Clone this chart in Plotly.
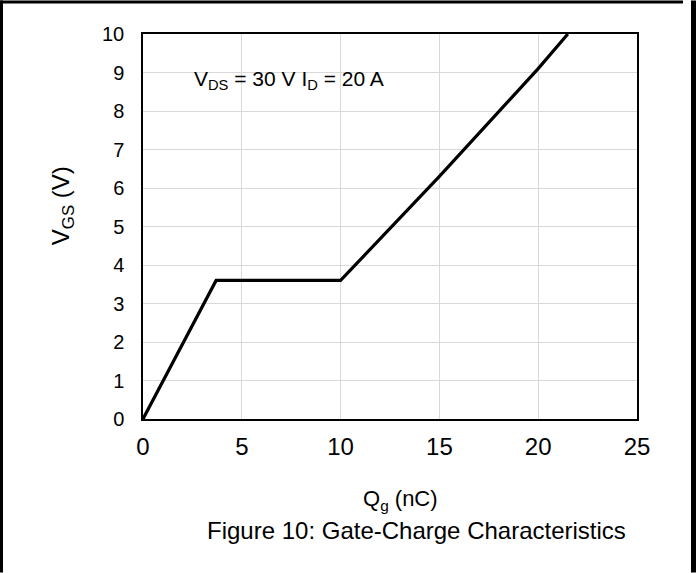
import plotly.graph_objects as go

# Data
qg_nc = [0, 3.7, 10.0, 15.0, 20.0, 21.5]
vgs_v = [0, 3.6, 3.6, 6.3, 9.1, 10.0]
x_ticks = [0, 5, 10, 15, 20, 25]
y_ticks = list(range(0, 11))

W, H = 696, 573
L, R, T, B = 143, 59, 33.5, 153.7
pw, ph = W - L - R, H - T - B

def px(xp):
    return (xp - L) / pw

def py(yp):
    return (H - B - yp) / ph

FONT = "Liberation Sans, Arial, sans-serif"

fig = go.Figure()
fig.add_trace(go.Scatter(x=qg_nc, y=vgs_v, mode="lines",
                         line=dict(color="black", width=3.2),
                         showlegend=False, hoverinfo="skip"))

fig.update_layout(
    width=W, height=H,
    margin=dict(l=L, r=R, t=T, b=B, pad=0),
    paper_bgcolor="white", plot_bgcolor="white",
    font=dict(family=FONT, color="black"),
    xaxis=dict(range=[0, 25], tickvals=x_ticks, ticktext=[str(v) for v in x_ticks],
               showgrid=True, gridcolor="#d9d9d9", gridwidth=1,
               showline=True, linecolor="black", linewidth=1.5, mirror=True,
               ticks="", ticklabelstandoff=5, zeroline=False,
               tickfont=dict(size=24, family=FONT)),
    yaxis=dict(range=[0, 10], tickvals=y_ticks, ticktext=[str(v) for v in y_ticks],
               showgrid=True, gridcolor="#d9d9d9", gridwidth=1,
               showline=True, linecolor="black", linewidth=1.5, mirror=True,
               ticks="", ticklabelstandoff=13, zeroline=False,
               tickfont=dict(size=20, family=FONT)),
    shapes=[
        dict(type="line", xref="paper", yref="paper", x0=px(1.5), x1=px(1.5), y0=py(573), y1=py(0),
             line=dict(color="black", width=3), layer="above"),
        dict(type="line", xref="paper", yref="paper", x0=px(0), x1=px(683), y0=py(1.5), y1=py(1.5),
             line=dict(color="black", width=3), layer="above"),
        dict(type="rect", xref="paper", yref="paper", x0=px(691), x1=px(696), y0=py(573), y1=py(0),
             fillcolor="black", line=dict(width=0), layer="above"),
    ],
    annotations=[
        dict(text="V<sub>DS</sub> = 30 V I<sub>D</sub> = 20 A", x=2.5, y=8.8,
             xref="x", yref="y", xanchor="left", yanchor="middle", showarrow=False,
             font=dict(size=21, family=FONT)),
        dict(text="Q<sub>g</sub> (nC)", x=px(400), y=py(500), xref="paper", yref="paper",
             xanchor="center", yanchor="middle", showarrow=False,
             font=dict(size=22, family=FONT)),
        dict(text="Figure 10: Gate-Charge Characteristics", x=px(416), y=py(531),
             xref="paper", yref="paper", xanchor="center", yanchor="middle", showarrow=False,
             font=dict(size=24, family=FONT)),
        dict(text="V<sub>GS</sub> (V)", x=px(62), y=py(206), xref="paper", yref="paper",
             xanchor="center", yanchor="middle", showarrow=False, textangle=-90,
             font=dict(size=24, family=FONT)),
    ],
)

fig.write_html("out.html", config={"displayModeBar": False},
               post_script="document.body.style.margin='0';document.body.style.overflow='hidden';")
